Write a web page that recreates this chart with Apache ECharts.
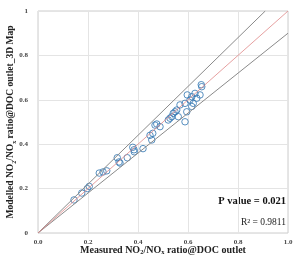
<!DOCTYPE html>
<html>
<head>
<meta charset="utf-8">
<title>NO2/NOx ratio</title>
<script src="https://cdn.jsdelivr.net/npm/echarts@6/dist/echarts.min.js"></script>
<style>
  html, body { margin: 0; padding: 0; background: #fff; }
  #main { width: 296px; height: 259px; }
</style>
</head>
<body>
<div id="main"></div>
<script>
// measured vs modelled NO2/NOx ratio
var measured = [0.144, 0.175, 0.197, 0.205, 0.245, 0.26, 0.275, 0.317, 0.324, 0.328, 0.357, 0.379, 0.384, 0.385,
  0.42, 0.448, 0.455, 0.459, 0.468, 0.475, 0.488, 0.521, 0.528, 0.535, 0.541, 0.548, 0.555, 0.561, 0.568,
  0.588, 0.588, 0.595, 0.597, 0.608, 0.615, 0.615, 0.621, 0.628, 0.635, 0.648, 0.653, 0.655];
var modelled = [0.149, 0.18, 0.20, 0.21, 0.27, 0.275, 0.28, 0.339, 0.32, 0.315, 0.339, 0.386, 0.375, 0.366,
  0.38, 0.44, 0.419, 0.449, 0.486, 0.491, 0.479, 0.509, 0.517, 0.524, 0.539, 0.546, 0.554, 0.524, 0.577,
  0.501, 0.584, 0.546, 0.622, 0.599, 0.614, 0.57, 0.584, 0.629, 0.607, 0.622, 0.668, 0.659];

// reference lines: 1:1 and +/-10 %
var lineOneToOne = [[0, 0], [1, 1]];
var linePlus10 = [[0, 0], [0.909, 1]];
var lineMinus10 = [[0, 0], [1, 0.9]];

var xTicks = ['0.0', '0.2', '0.4', '0.6', '0.8', '1.0'];
var yTicks = ['0', '0.2', '0.4', '0.6', '0.8', '1'];

var points = measured.map(function (m, i) { return [m, modelled[i]]; });

var serif = '"Liberation Serif", "DejaVu Serif", serif';
function richStyle(size) {
  return {
    b: { fontFamily: serif, fontWeight: 'bold', fontSize: size, color: '#222', lineHeight: 12, verticalAlign: 'middle' },
    s: { fontFamily: serif, fontWeight: 'bold', fontSize: size * 0.65, color: '#222', lineHeight: 12, verticalAlign: 'bottom', padding: [5, 0, 0, 0] }
  };
}

var chart = echarts.init(document.getElementById('main'));
chart.setOption({
  animation: false,
  grid: { left: 38, right: 8, top: 11, bottom: 26, outerBoundsMode: 'none', show: true, borderColor: '#ccc', borderWidth: 1 },
  xAxis: {
    type: 'value', min: 0, max: 1, interval: 0.2,
    name: '{b|Measured NO}{s|2}{b|/NO}{s|x}{b| ratio@DOC outlet}',
    nameLocation: 'middle', nameGap: 11, nameMoveOverlap: false,
    nameTextStyle: { rich: richStyle(10) },
    axisLine: { show: false }, axisTick: { show: false },
    splitLine: { lineStyle: { color: '#e4e4e4' } },
    axisLabel: {
      fontFamily: serif, fontWeight: 'bold', fontSize: 7, color: '#444', margin: 6,
      formatter: function (v) { return xTicks[Math.round(v / 0.2)]; }
    }
  },
  yAxis: {
    type: 'value', min: 0, max: 1, interval: 0.2,
    name: '{b|Modelled NO}{s|2}{b|/NO}{s|x}{b| ratio@DOC outlet_3D Map}',
    nameLocation: 'middle', nameGap: 21, nameRotate: 90, nameMoveOverlap: false,
    nameTextStyle: { rich: richStyle(9.5) },
    axisLine: { show: false }, axisTick: { show: false },
    splitLine: { lineStyle: { color: '#e4e4e4' } },
    axisLabel: {
      fontFamily: serif, fontWeight: 'bold', fontSize: 7, color: '#444', margin: 10,
      formatter: function (v) { return yTicks[Math.round(v / 0.2)]; }
    }
  },
  series: [
    { type: 'line', data: linePlus10, symbol: 'none', lineStyle: { color: '#8a8a8a', width: 1 }, silent: true },
    { type: 'line', data: lineMinus10, symbol: 'none', lineStyle: { color: '#8a8a8a', width: 1 }, silent: true },
    { type: 'line', data: lineOneToOne, symbol: 'none', lineStyle: { color: '#e08888', width: 0.8 }, silent: true },
    {
      type: 'scatter', data: points, symbol: 'circle', symbolSize: 6.5,
      itemStyle: { color: 'rgba(255,255,255,0)', borderColor: '#2f74b0', borderWidth: 1 }
    }
  ],
  graphic: [
    { type: 'text', right: 10, top: 196, style: { text: 'P value = 0.021', font: 'bold 10.5px ' + serif, fill: '#111' } },
    { type: 'text', right: 10, top: 217, style: { text: 'R\u00b2 = 0.9811', font: '9.5px ' + serif, fill: '#222' } }
  ]
});
</script>
</body>
</html>
